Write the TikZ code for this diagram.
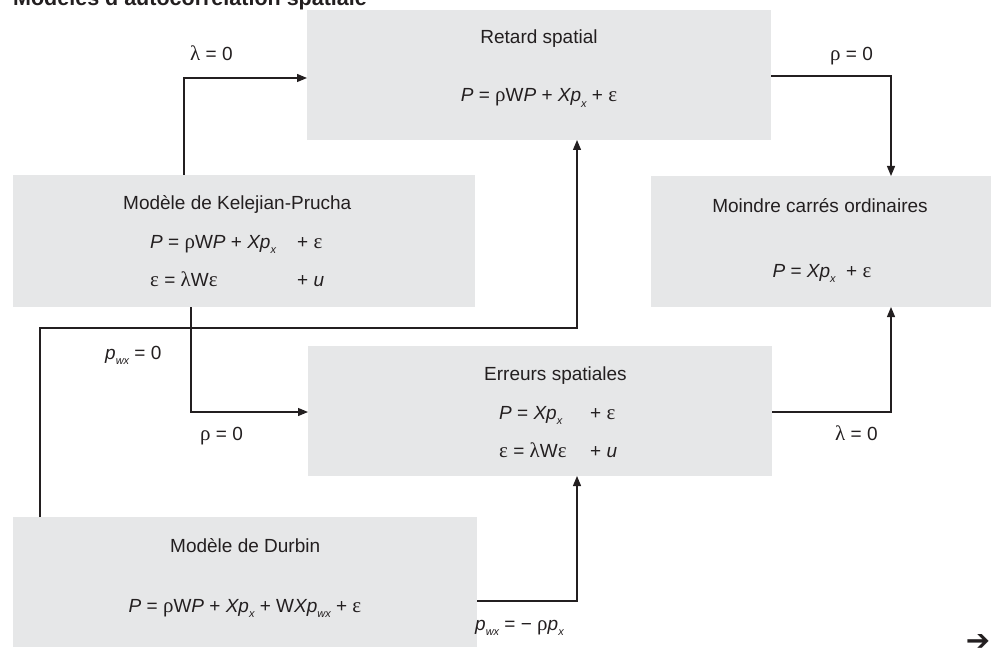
\documentclass[tikz,border=0pt]{standalone}
\usepackage{fontspec}
\setmainfont{Liberation Sans}
\newfontfamily\djv{DejaVu Sans}
\newfontfamily\grkf{Liberation Serif}
\usetikzlibrary{arrows.meta}
\definecolor{ink}{HTML}{231F20}
\definecolor{boxgray}{HTML}{E6E7E8}
\newcommand{\sbs}[1]{\raisebox{-0.3em}{\fontsize{11}{11}\selectfont\itshape #1}}
\newcommand{\gk}[1]{{\grkf\fontsize{21}{21}\selectfont #1}}
\begin{document}
\begin{tikzpicture}[x=1pt,y=-1pt,
  font=\fontsize{19}{23}\selectfont, text=ink,
  box/.style={fill=boxgray, draw=none, inner sep=0pt, outer sep=0pt, anchor=north west},
  arr/.style={draw=ink, line width=1.2pt, -{Triangle[length=10pt,width=8pt]}},
  lbl/.style={inner sep=0pt, anchor=base west},
  ttl/.style={inner sep=0pt, anchor=base}]
\useasboundingbox (0,0) rectangle (1001,655);

% title
\node[lbl, font=\fontsize{21.5}{25}\selectfont\bfseries] (title) at (13,6) {Modèles d'autocorrélation spatiale};

% boxes
\node[box, minimum width=464pt, minimum height=130pt] (ret) at (307,10) {};
\node[box, minimum width=462pt, minimum height=132pt] (kp) at (13,175) {};
\node[box, minimum width=340pt, minimum height=131pt] (mc) at (651,176) {};
\node[box, minimum width=464pt, minimum height=130pt] (er) at (308,346) {};
\node[box, minimum width=464pt, minimum height=130pt] (db) at (13,517) {};

% Retard spatial
\node[ttl] (retT) at (539,44) {Retard spatial};
\node[ttl] (retE) at (539,102) {\textit{P} = \gk{ρ}W\textit{P} + \textit{Xp}\sbs{x} + \gk{ε}};

% Kelejian-Prucha
\node[lbl] (kpT) at (123,210) {Modèle de Kelejian-Prucha};
\node[lbl] (kpE1) at (150,248) {\textit{P} = \gk{ρ}W\textit{P} + \textit{Xp}\sbs{x}};
\node[lbl] (kpE1b) at (297,248) {+ \gk{ε}};
\node[lbl] (kpE2) at (150,286) {\gk{ε} = \gk{λ}W\gk{ε}};
\node[lbl] (kpE2b) at (297,286) {+ \textit{u}};

% Moindre carres
\node[ttl] (mcT) at (820,212) {Moindre carrés ordinaires};
\node[ttl] (mcE) at (822,277) {\textit{P} = \textit{Xp}\sbs{x}\ \ + \gk{ε}};

% Erreurs spatiales
\node[lbl] (erT) at (484,380) {Erreurs spatiales};
\node[lbl] (erE1) at (499,419) {\textit{P} = \textit{Xp}\sbs{x}};
\node[lbl] (erE1b) at (590,419) {+ \gk{ε}};
\node[lbl] (erE2) at (499,457) {\gk{ε} = \gk{λ}W\gk{ε}};
\node[lbl] (erE2b) at (590,457) {+ \textit{u}};

% Durbin
\node[lbl] (dbT) at (170,552) {Modèle de Durbin};
\node[ttl] (dbE) at (245,612) {\textit{P} = \gk{ρ}W\textit{P} + \textit{Xp}\sbs{x} + W\textit{Xp}\sbs{wx} + \gk{ε}};

% connectors
\coordinate (c1) at (184,78);
\coordinate (c2) at (891,76);
\coordinate (c3) at (191,412);
\coordinate (c4a) at (40,328);
\coordinate (c4b) at (577,328);
\coordinate (c5) at (891,412);
\coordinate (c6) at (577,601);

\draw[arr] (kp.north -| c1) |- (ret.west |- c1);
\draw[arr] (ret.east |- c2) -| (mc.north -| c2);
\draw[arr] (kp.south -| c3) |- (er.west |- c3);
\draw[arr] (db.north -| c4a) |- (c4b) -- (ret.south -| c4b);
\draw[arr] (er.east |- c5) -| (mc.south -| c5);
\draw[arr] (db.east |- c6) -| (er.south -| c6);

% labels
\node[lbl] (l1) at (190,61) {\gk{λ} = 0};
\node[lbl] (l2) at (830,61) {\gk{ρ} = 0};
\node[lbl] (l3) at (105,359) {\textit{p}\sbs{wx} = 0};
\node[lbl] (l4) at (200,440) {\gk{ρ} = 0};
\node[lbl] (l5) at (835,440) {\gk{λ} = 0};
\node[lbl] (l6) at (475,630) {\textit{p}\sbs{wx} = − \gk{ρ}\textit{p}\sbs{x}};

% continuation arrow
\node[inner sep=0pt, font=\djv\bfseries\fontsize{29}{29}\selectfont] (cont) at (978,642) {➔};
\end{tikzpicture}
\end{document}
